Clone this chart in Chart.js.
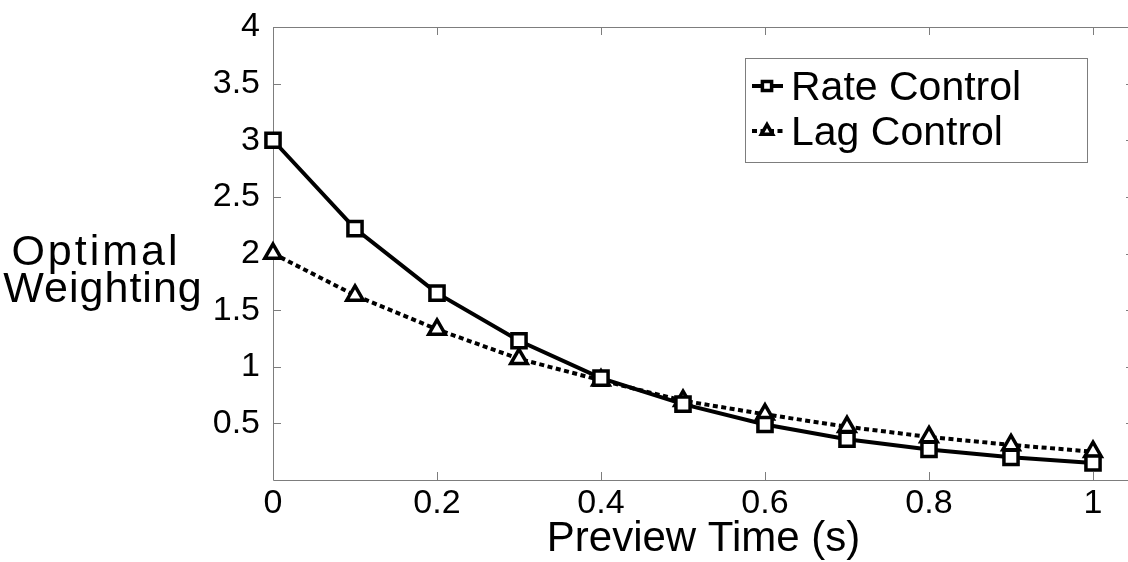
<!DOCTYPE html>
<html>
<head>
<meta charset="utf-8">
<script src="https://cdn.jsdelivr.net/npm/chart.js@4/dist/chart.umd.min.js"></script>
<style>
  html, body { margin: 0; padding: 0; background: #fff; overflow: hidden; }
  #wrap { position: absolute; left: 0; top: 0; width: 1128px; height: 562px; overflow: hidden; }
  #box { position: absolute; left: 0; top: 0; width: 1140px; height: 562px; }
  canvas { display: block; }
</style>
</head>
<body>
<div id="wrap"><div id="box"><canvas id="c" width="1140" height="562" style="width:1140px;height:562px"></canvas></div></div>
<script>
// Preview time (s)
const previewTime = [0, 0.1, 0.2, 0.3, 0.4, 0.5, 0.6, 0.7, 0.8, 0.9, 1.0];
// Optimal weighting for each control strategy
const rateControl = [3.00, 2.22, 1.65, 1.23, 0.90, 0.67, 0.49, 0.36, 0.27, 0.20, 0.15];
const lagControl  = [2.00, 1.63, 1.33, 1.07, 0.88, 0.70, 0.58, 0.47, 0.38, 0.31, 0.25];
const seriesNames = ['Rate Control', 'Lag Control'];
// Axis tick values
const xTicks = [0, 0.2, 0.4, 0.6, 0.8, 1];
const yTicks = [0.5, 1, 1.5, 2, 2.5, 3, 3.5, 4];

const FONT = '"Liberation Sans", Arial, Helvetica, sans-serif';
const AXIS_GRAY = '#7d7d7d';

function pts(ys) { return previewTime.map((t, i) => ({ x: t, y: ys[i] })); }

// Box frame with inward tick marks on all four sides
const framePlugin = {
  id: 'frame',
  beforeDatasetsDraw(chart) {
    const { ctx, chartArea: a, scales } = chart;
    const tl = 8;
    ctx.save();
    ctx.strokeStyle = AXIS_GRAY;
    ctx.lineWidth = 1;
    ctx.beginPath();
    ctx.rect(Math.round(a.left) + 0.5, Math.round(a.top) + 0.5,
             Math.round(a.right - a.left), Math.round(a.bottom - a.top));
    scales.x.ticks.forEach(t => {
      const px = Math.round(scales.x.getPixelForValue(t.value)) + 0.5;
      ctx.moveTo(px, a.bottom); ctx.lineTo(px, a.bottom - tl);
      ctx.moveTo(px, a.top); ctx.lineTo(px, a.top + tl);
    });
    scales.y.ticks.forEach(t => {
      const py = Math.round(scales.y.getPixelForValue(t.value)) + 0.5;
      ctx.moveTo(a.left, py); ctx.lineTo(a.left + tl, py);
      ctx.moveTo(a.right, py); ctx.lineTo(a.right - tl, py);
    });
    ctx.stroke();
    ctx.restore();
  }
};

// Horizontal two-line y-axis title and boxed legend
const annotatePlugin = {
  id: 'annotate',
  afterDraw(chart) {
    const { ctx } = chart;
    ctx.save();
    ctx.fillStyle = '#000';
    ctx.font = '43px ' + FONT;
    ctx.textAlign = 'center';
    ctx.textBaseline = 'alphabetic';
    ctx.letterSpacing = '3px';
    ctx.fillText('Optimal', 96, 265);
    ctx.letterSpacing = '1px';
    ctx.fillText('Weighting', 103, 302);
    ctx.letterSpacing = '0px';

    // legend box
    const bx = 745, by = 58, bw = 342, bh = 104;
    ctx.fillStyle = '#fff';
    ctx.fillRect(bx, by, bw, bh);
    ctx.strokeStyle = AXIS_GRAY;
    ctx.lineWidth = 1;
    ctx.strokeRect(bx + 0.5, by + 0.5, bw, bh);

    const rows = [100, 145];
    chart.data.datasets.forEach((ds, i) => {
      const cy = rows[i] - 14;
      ctx.save();
      ctx.strokeStyle = ds.borderColor;
      ctx.lineWidth = ds.borderWidth;
      ctx.setLineDash(ds.borderDash || []);
      ctx.beginPath();
      ctx.moveTo(752, cy); ctx.lineTo(783, cy);
      ctx.stroke();
      ctx.restore();
      ctx.save();
      ctx.strokeStyle = ds.pointBorderColor;
      ctx.fillStyle = ds.pointBackgroundColor;
      ctx.lineWidth = ds.pointBorderWidth;
      Chart.helpers.drawPoint(ctx, { pointStyle: ds.pointStyle, radius: 6.5, rotation: 0, borderWidth: ds.pointBorderWidth }, 767, cy);
      ctx.restore();
      ctx.fillStyle = '#000';
      ctx.font = '41px ' + FONT;
      ctx.textAlign = 'left';
      ctx.fillText(ds.label, 791, rows[i]);
    });
    ctx.restore();
  }
};

new Chart(document.getElementById('c'), {
  type: 'line',
  data: {
    datasets: [
      {
        label: seriesNames[0],
        data: pts(rateControl),
        borderColor: '#000',
        borderWidth: 4,
        pointStyle: 'rect',
        pointRadius: 10,
        pointBorderWidth: 3.5,
        pointBorderColor: '#000',
        pointBackgroundColor: '#fff',
        tension: 0,
        clip: false
      },
      {
        label: seriesNames[1],
        data: pts(lagControl),
        borderColor: '#000',
        borderWidth: 4,
        borderDash: [5, 3.5],
        pointStyle: 'triangle',
        pointRadius: 9.5,
        pointBorderWidth: 3.5,
        pointBorderColor: '#000',
        pointBackgroundColor: '#fff',
        tension: 0,
        clip: false
      }
    ]
  },
  options: {
    responsive: false,
    maintainAspectRatio: false,
    animation: false,
    devicePixelRatio: 1,
    layout: { autoPadding: false, padding: { top: 27, right: 6, left: 0, bottom: 0 } },
    plugins: { legend: { display: false }, tooltip: { enabled: false } },
    scales: {
      x: {
        type: 'linear',
        min: 0,
        max: 1.05,
        grid: { display: false },
        border: { display: false },
        afterBuildTicks(scale) { scale.ticks = xTicks.map(v => ({ value: v })); },
        afterFit(scale) { scale.height = 82; },
        ticks: {
          padding: -5,
          color: '#000',
          font: { family: FONT, size: 34 },
          maxRotation: 0,
          callback: v => String(v)
        },
        title: {
          display: true,
          text: 'Preview Time (s)',
          color: '#000',
          font: { family: FONT, size: 42, lineHeight: 1 },
          padding: { top: 0, bottom: 1.5 }
        }
      },
      y: {
        type: 'linear',
        min: 0,
        max: 4,
        grid: { display: false },
        border: { display: false },
        afterBuildTicks(scale) { scale.ticks = yTicks.map(v => ({ value: v })); },
        afterFit(scale) { scale.width = 273; },
        ticks: {
          padding: 5,
          color: '#000',
          font: { family: FONT, size: 34 },
          callback: v => String(v)
        }
      }
    }
  },
  plugins: [framePlugin, annotatePlugin]
});
</script>
</body>
</html>
